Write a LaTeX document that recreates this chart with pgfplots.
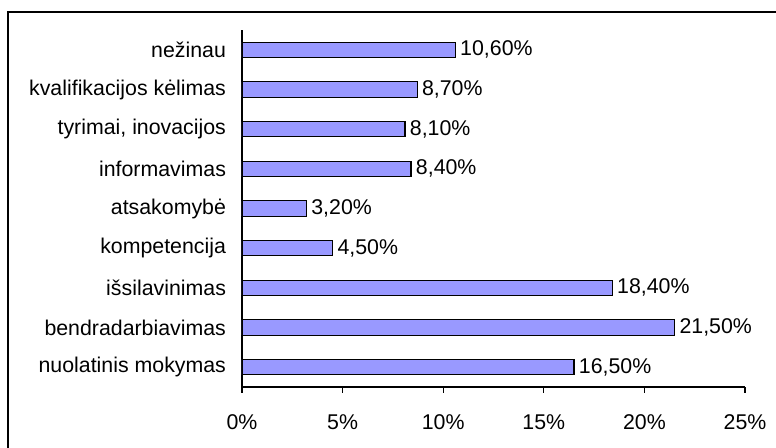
\documentclass[border=0pt]{standalone}
\usepackage{fontspec}
\setmainfont{Liberation Sans}
\usepackage{pgfplots}
\pgfplotsset{compat=1.18}
\definecolor{barblue}{HTML}{9999FF}

\begin{document}
\begin{tikzpicture}
% page size 776x448 px at 0.75pt per px, axis lower left at (242,387) px
\path[use as bounding box] (-181.5pt,-45.75pt) rectangle (400.5pt,290.25pt);
\draw[black, line width=0.8pt] (-175.5pt,-50pt) -- (-175.5pt,281.25pt) -- (410pt,281.25pt);
\begin{axis}[
    at={(0pt,0pt)}, anchor=south west,
    xbar,
    scale only axis,
    width=377.25pt,
    height=267.75pt,
    xmin=0, xmax=25,
    ymin=-0.5, ymax=8.5,
    axis lines=left,
    axis line style={black, line width=0.8pt, -},
    xtick={0,5,10,15,20,25},
    xticklabel={\pgfmathprintnumber{\tick}\%},
    ytick={0,...,8},
    yticklabels={nuolatinis mokymas,bendradarbiavimas,išsilavinimas,kompetencija,atsakomybė,informavimas,{tyrimai, inovacijos},kvalifikacijos kėlimas,nežinau},
    minor ytick={-0.5,0.5,...,8.5},
    tick align=outside,
    tick style={black, line width=0.8pt},
    major tick length=4.5pt,
    minor tick length=5pt,
    ytick style={draw=none},
    minor tick style={black, line width=0.8pt},
    /pgf/number format/assume math mode=true,
    ticklabel style={font=\fontsize{16}{19}\selectfont},
    yticklabel style={xshift=-4pt},
    xticklabel style={yshift=-13pt},
    bar width=11.5pt,
    nodes near coords={\pgfmathprintnumber[fixed,fixed zerofill,precision=2,use comma]{\pgfplotspointmeta}\%},
    point meta=x,
    every node near coord/.append style={font=\fontsize{16}{19}\selectfont, text=black, xshift=0pt},
]
\addplot[fill=barblue, draw=black, line width=0.8pt] coordinates {
    (16.5,0)
    (21.5,1)
    (18.4,2)
    (4.5,3)
    (3.2,4)
    (8.4,5)
    (8.1,6)
    (8.7,7)
    (10.6,8)
};
\end{axis}
\end{tikzpicture}
\end{document}
